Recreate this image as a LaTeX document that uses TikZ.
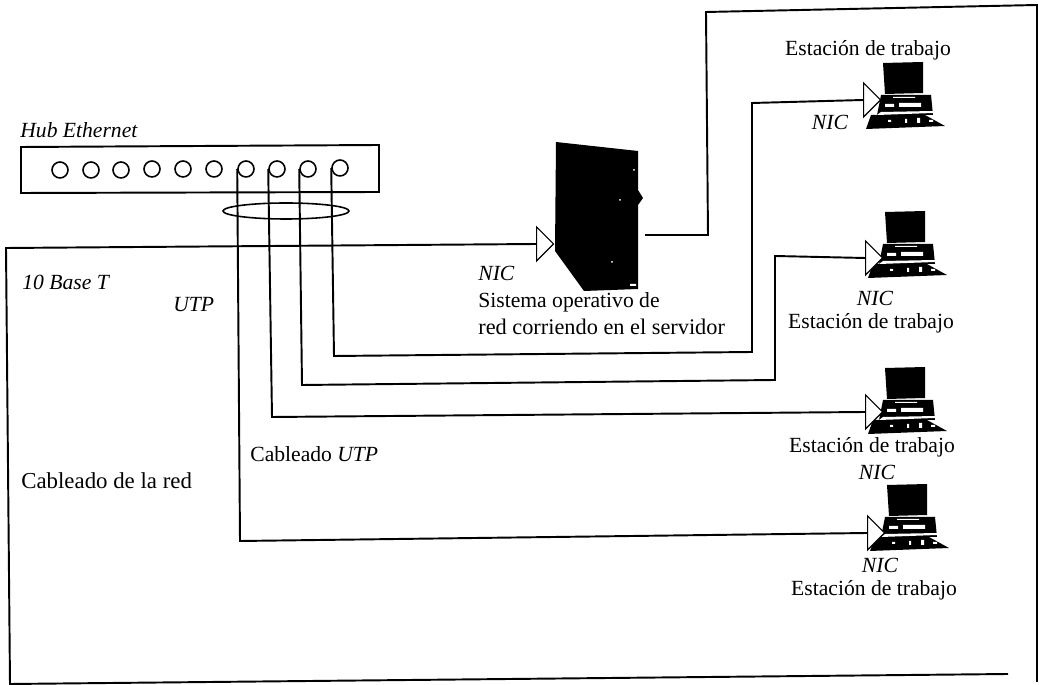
\documentclass[tikz,border=0pt]{standalone}
\usepackage{fontspec}
\setmainfont{Liberation Serif}
\usetikzlibrary{shapes.geometric}
\tikzset{
  wire/.style={line width=1.1pt,line join=miter},
  port/.style={circle,draw,line width=0.9pt,minimum size=0.32cm,inner sep=0pt},
  nictri/.style={isosceles triangle,isosceles triangle apex angle=90,draw,line width=0.7pt,fill=white,
    minimum height=0.34cm,minimum width=0.66cm,inner sep=0pt,anchor=west},
  lbl/.style={font=\fontsize{12.3}{14}\selectfont,inner sep=0pt},
  lbll/.style={lbl,anchor=west},
}
\begin{document}
\begin{tikzpicture}[x=0.02cm,y=-0.02cm]
\useasboundingbox (0,0) rectangle (1039,685);

% --- hub ---
\draw[wire] (21,147) -- (379,145) -- (379,192) -- (21,193) -- cycle;
\foreach \n/\x/\y in {1/60/170,2/91/170,3/121/170,4/152/169,5/183/169,6/214/169,7/246/169,8/277/169,9/308/169,10/340/168}
  \node[port] (p\n) at (\x,\y) {};
\node[lbll] (hub) at (20,130) {\textit{Hub Ethernet}};

% --- servidor ---
\fill (556,142) -- (638,151) -- (638,190) -- (643,198) -- (638,205) -- (638,289) -- (584,291) -- (555,251) -- cycle;
\fill[white] (620,200) circle (1) (612,262) circle (1) (634,170) circle (1) (636,284) rectangle (630,286);
\node[nictri] (tri0) at (536,244) {};
\coordinate (srvout) at (645,235);

% --- estaciones ---
\foreach \n/\x/\y/\t in {1/863/98/100,2/865/247/258,3/865/403/412,4/867/520/533}{
  \begin{scope}[shift={(\x,\y)}]
  \fill (20,-35) -- (60,-36) -- (60,-5) -- (22,-4) -- cycle;
  \fill (18,-3) -- (68,-3) -- (70,17) -- (14,17) -- cycle;
  \fill (8,17) -- (62,17) -- (82,28) -- (3,31) -- cycle;
  \fill[white] (36,5) rectangle (58,9) (22,6) rectangle (31,9) (30,-1) rectangle (52,0);
  \fill[white] (18,14) -- (70,13) -- (70,15) -- (14,17) -- cycle;
  \fill[white] (25,22) rectangle (28,24) (42,21) rectangle (44,25) (54,20) rectangle (57,25) (66,22) rectangle (70,24);
  \end{scope}
  \node[nictri] (tri\n) at (\x,\t) {};
}

% --- cables ---
\draw[wire] (tri0.west) -- (6,248) -- (10,684) -- (1008,674);
\draw[wire] (srvout) -- (708,235) -- (706,12) -- (1037,5) -- (1037,682);
\draw[wire] (p10.west) -- (334,356) -- (752,352) -- (752,103) -- (tri1.west);
\draw[wire] (p9.west) -- (302,385) -- (775,380) -- (775,256) -- (tri2.west);
\draw[wire] (p8.west) -- (272,417) -- (tri3.west);
\draw[wire] (p7.west) -- (240,541) -- (tri4.west);
\node[draw,ellipse,line width=0.9pt,minimum width=2.52cm,minimum height=0.32cm,inner sep=0pt] (haz) at (286,211) {};

% --- textos ---
\node[lbll] (base) at (22,282) {\textit{10 Base T}};
\node[lbll] (utpa) at (173,305) {\textit{UTP}};
\node[lbll] (nic0) at (478,273) {\textit{NIC}};
\node[lbll] (so1) at (478,302) {Sistema operativo de};
\node[lbll,font=\fontsize{12.7}{14}\selectfont] (so2) at (478,327) {red corriendo en el servidor};
\node[lbll] (utpb) at (250,454) {Cableado \textit{UTP}};
\node[lbll,font=\fontsize{13}{14}\selectfont] (red) at (21,481) {Cableado de la red};

\node[lbl] (est1) at (868,50) {Estación de trabajo};
\node[lbl] (nic1) at (830,122) {\textit{NIC}};
\node[lbl] (nic2) at (875,298) {\textit{NIC}};
\node[lbl] (est2) at (871,323) {Estación de trabajo};
\node[lbl] (est3) at (872,447) {Estación de trabajo};
\node[lbl] (nic3) at (877,472) {\textit{NIC}};
\node[lbl] (nic4) at (880,565) {\textit{NIC}};
\node[lbl] (est4) at (874,590) {Estación de trabajo};

\end{tikzpicture}
\end{document}
